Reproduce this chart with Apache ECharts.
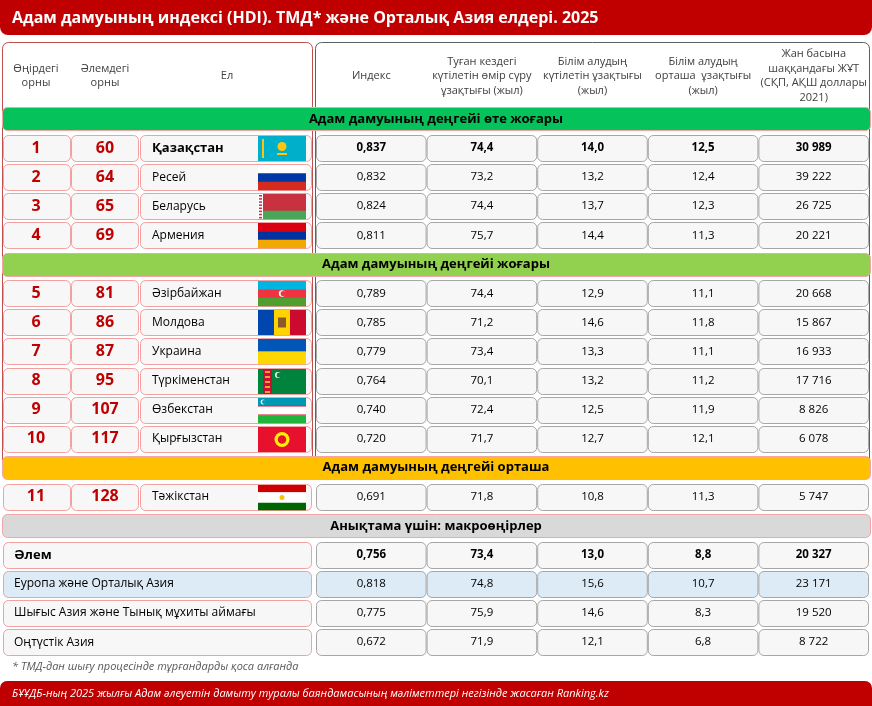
<!DOCTYPE html>
<html>
<head>
<meta charset="utf-8">
<script src="https://cdn.jsdelivr.net/npm/echarts@6/dist/echarts.min.js"></script>
<style>
  html, body { margin: 0; padding: 0; background: #fff; }
  #chart { width: 872px; height: 706px; }
</style>
</head>
<body>
<div id="chart"></div>
<script>
// --- data ---
const titleText = 'Адам дамуының индексі (HDI). ТМД* және Орталық Азия елдері. 2025';
const footnote = '* ТМД-дан шығу процесінде тұрғандарды қоса алғанда';
const sourceText = 'БҰҰДБ-ның 2025 жылғы Адам әлеуетін дамыту туралы баяндамасының мәліметтері негізінде жасаған Ranking.kz';

const leftHeaders = ['Өңірдегі\nорны', 'Әлемдегі\nорны', 'Ел'];
const valueHeaders = [
  'Индекс',
  'Туған кездегі\nкүтілетін өмір сүру\nұзақтығы (жыл)',
  'Білім алудың\nкүтілетін ұзақтығы\n(жыл)',
  'Білім алудың\nорташа  ұзақтығы\n(жыл)',
  'Жан басына\nшаққандағы ЖҰТ\n(СҚП, АҚШ доллары\n2021)'
];

const groupNames = ['Адам дамуының деңгейі өте жоғары', 'Адам дамуының деңгейі жоғары', 'Адам дамуының деңгейі орташа'];
const groupSizes = [4, 6, 1];

const regionRank = [1, 2, 3, 4, 5, 6, 7, 8, 9, 10, 11];
const worldRank = [60, 64, 65, 69, 81, 86, 87, 95, 107, 117, 128];
const countries = ['Қазақстан', 'Ресей', 'Беларусь', 'Армения', 'Әзірбайжан', 'Молдова', 'Украина', 'Түркіменстан', 'Өзбекстан', 'Қырғызстан', 'Тәжікстан'];
const hdi = [0.837, 0.832, 0.824, 0.811, 0.789, 0.785, 0.779, 0.764, 0.740, 0.720, 0.691];
const lifeExp = [74.4, 73.2, 74.4, 75.7, 74.4, 71.2, 73.4, 70.1, 72.4, 71.7, 71.8];
const expSchool = [14.0, 13.2, 13.7, 14.4, 12.9, 14.6, 13.3, 13.2, 12.5, 12.7, 10.8];
const meanSchool = [12.5, 12.4, 12.3, 11.3, 11.1, 11.8, 11.1, 11.2, 11.9, 12.1, 11.3];
const gni = [30989, 39222, 26725, 20221, 20668, 15867, 16933, 17716, 8826, 6078, 5747];

const refTitle = 'Анықтама үшін: макроөңірлер';
const regions = ['Әлем', 'Еуропа және Орталық Азия', 'Шығыс Азия және Тынық мұхиты аймағы', 'Оңтүстік Азия'];
const regionHdi = [0.756, 0.818, 0.775, 0.672];
const regionLife = [73.4, 74.8, 75.9, 71.9];
const regionExpSchool = [13.0, 15.6, 14.6, 12.1];
const regionMeanSchool = [8.8, 10.7, 8.3, 6.8];
const regionGni = [20327, 23171, 19520, 8722];

// --- styles ---
const RED = '#C00000';
const bandColors = ['#05C35A', '#92D050', '#FFC000', '#D9D9D9'];
const FONT = '"Open Sans", "Noto Sans", sans-serif';

// --- rows in drawing order ---
const rows = [];
let ci = 0;
groupNames.forEach((g, gi) => {
  rows.push({ kind: 'band', text: g, color: bandColors[gi] });
  for (let n = 0; n < groupSizes[gi]; n++) rows.push({ kind: 'country', i: ci++ });
});
rows.push({ kind: 'band', text: refTitle, color: bandColors[3] });
regions.forEach((r, j) => rows.push({ kind: 'region', j: j }));

const dec = (v, d) => v.toFixed(d).replace('.', ',');
const thousands = v => String(v).replace(/\B(?=(\d{3})+(?!\d))/g, ' ');

function rowValues(row) {
  if (row.kind === 'country') {
    const i = row.i;
    return [dec(hdi[i], 3), dec(lifeExp[i], 1), dec(expSchool[i], 1), dec(meanSchool[i], 1), thousands(gni[i])];
  }
  const j = row.j;
  return [dec(regionHdi[j], 3), dec(regionLife[j], 1), dec(regionExpSchool[j], 1), dec(regionMeanSchool[j], 1), thousands(regionGni[j])];
}

// simple flag drawings
function flag(name, x, y, w, h) {
  const out = [];
  const rect = (rx, ry, rw, rh, fill) => out.push({ type: 'rect', shape: { x: rx, y: ry, width: rw, height: rh }, style: { fill: fill } });
  const circ = (cx, cy, r, fill) => out.push({ type: 'circle', shape: { cx: cx, cy: cy, r: r }, style: { fill: fill } });
  const hStripes = (cols, weights) => {
    weights = weights || cols.map(() => 1);
    const tot = weights.reduce((a, b) => a + b, 0);
    let yy = y;
    cols.forEach((c, k) => { const hh = h * weights[k] / tot; rect(x, yy, w, hh + 0.3, c); yy += hh; });
  };
  switch (name) {
    case 'Қазақстан':
      rect(x, y, w, h, '#00AFCA');
      rect(x + 4, y + 3, 2, h - 6, '#FEC50C');
      circ(x + w / 2, y + h * 0.42, h * 0.18, '#FEC50C');
      rect(x + w / 2 - 5, y + h * 0.68, 10, 2, '#FEC50C');
      break;
    case 'Ресей': hStripes(['#FFFFFF', '#0039A6', '#D52B1E']); break;
    case 'Беларусь':
      hStripes(['#C8313E', '#4AA657'], [2, 1]);
      rect(x, y, 5, h, '#FFFFFF');
      for (let k = 0; k < 8; k++) rect(x + 1, y + 1 + k * h / 8, 3, h / 16, '#C8313E');
      break;
    case 'Армения': hStripes(['#D90012', '#0033A0', '#F2A800']); break;
    case 'Әзірбайжан':
      hStripes(['#00B5E2', '#EF3340', '#509E2F']);
      circ(x + w / 2, y + h / 2, 3.2, '#FFFFFF');
      circ(x + w / 2 + 1.2, y + h / 2, 2.6, '#EF3340');
      break;
    case 'Молдова':
      rect(x, y, w / 3, h, '#0046AE'); rect(x + w / 3, y, w / 3, h, '#FFD200'); rect(x + 2 * w / 3, y, w / 3, h, '#CC092F');
      rect(x + w / 2 - 4, y + h * 0.3, 8, h * 0.4, '#8B5A2B');
      break;
    case 'Украина': hStripes(['#0057B7', '#FFD700']); break;
    case 'Түркіменстан':
      rect(x, y, w, h, '#00843D');
      rect(x + 5, y, 9, h, '#C8102E');
      for (let k = 0; k < 5; k++) rect(x + 7, y + 2 + k * h / 5, 5, 2, '#E8A33C');
      circ(x + 20, y + 6, 3, '#FFFFFF'); circ(x + 21.2, y + 6, 2.6, '#00843D');
      break;
    case 'Өзбекстан':
      hStripes(['#0099B5', '#CE1126', '#FFFFFF', '#CE1126', '#1EB53A'], [10, 1, 10, 1, 10]);
      circ(x + 5, y + 4, 2.4, '#FFFFFF'); circ(x + 6, y + 4, 2, '#0099B5');
      break;
    case 'Қырғызстан':
      rect(x, y, w, h, '#E8112D');
      circ(x + w / 2, y + h / 2, h * 0.3, '#FFEF00');
      circ(x + w / 2, y + h / 2, h * 0.17, '#E8112D');
      break;
    case 'Тәжікстан':
      hStripes(['#CC0000', '#FFFFFF', '#006600'], [2, 3, 2]);
      circ(x + w / 2, y + h / 2, 2.5, '#F8C300');
      break;
  }
  return out;
}

function renderItem(params, api) {
  const row = rows[params.dataIndex];
  const yc = api.coord([0, api.value(1)])[1];
  const pitch = api.size([0, 1])[1];
  const X = v => api.coord([v, 0])[0];
  const kids = [];
  const cell = (x0, x1, h, fill, stroke) => kids.push({
    type: 'rect',
    shape: { x: X(x0) + 0.5, y: Math.round(yc - h / 2) + 0.5, width: X(x1) - X(x0), height: h, r: 5 },
    style: { fill: fill, stroke: stroke, lineWidth: 1 }
  });
  const txt = (s, x, font, fill, align) => kids.push({
    type: 'text',
    style: { text: s, x: X(x), y: yc, font: font, fill: fill, align: align, verticalAlign: 'middle', textAlign: align, textVerticalAlign: 'middle' }
  });

  if (row.kind === 'band') {
    cell(2, 870, pitch - 6, row.color, '#F2A5A5');
    txt(row.text, 436, 'bold 13px ' + FONT, '#000', 'center');
    return { type: 'group', children: kids };
  }

  const h = Math.round(pitch - 3.5);
  const strong = (row.kind === 'country' && row.i === 0) || (row.kind === 'region' && row.j === 0);
  const fill = (row.kind === 'region' && row.j === 1) ? '#DDEBF7' : '#F7F7F7';
  const pink = '#F2A0A0';

  if (row.kind === 'country') {
    const i = row.i;
    cell(3, 70, h, fill, pink);
    cell(71, 138, h, fill, pink);
    cell(140, 311, h, fill, pink);
    txt(String(regionRank[i]), 36, 'bold 16px ' + FONT, RED, 'center');
    txt(String(worldRank[i]), 105, 'bold 16px ' + FONT, RED, 'center');
    txt(countries[i], 152, (strong ? 'bold 13px ' : '12px ') + FONT, '#000', 'left');
    const fy = Math.round(yc - h / 2) + 1;
    flag(countries[i], X(258), fy, X(306) - X(258), h - 1).forEach(e => kids.push(e));
  } else {
    cell(3, 311, h, fill, pink);
    txt(regions[row.j], 14, (strong ? 'bold 13px ' : '12px ') + FONT, '#000', 'left');
  }

  const cw = (869 - 316) / 5;
  rowValues(row).forEach((v, k) => {
    const x0 = 316 + k * cw;
    cell(x0, x0 + cw - 1, h, fill, '#A6A6A6');
    txt(v, x0 + cw / 2, (strong ? 'bold 11.5px ' : '11.5px ') + FONT, '#000', 'center');
  });
  return { type: 'group', children: kids };
}

// --- static frame: title, panels, headers, footer ---
const headerText = (s, x) => ({
  type: 'text', z: 1,
  style: { text: s, x: x, y: 76, font: '11px ' + FONT, fill: '#404040', lineHeight: 14.5, align: 'center', verticalAlign: 'middle', textAlign: 'center', textVerticalAlign: 'middle' }
});
const cw = (869 - 316) / 5;
const graphics = [
  { type: 'rect', z: 0, shape: { x: 0, y: 0, width: 872, height: 35, r: [0, 0, 8, 8] }, style: { fill: RED } },
  { type: 'text', z: 1, style: { text: titleText, x: 12, y: 18, font: 'bold 16px ' + FONT, fill: '#fff', align: 'left', verticalAlign: 'middle', textAlign: 'left', textVerticalAlign: 'middle' } },
  { type: 'rect', z: 0, shape: { x: 2.5, y: 42.5, width: 310, height: 424, r: 6 }, style: { fill: '#fff', stroke: '#C0504D', lineWidth: 1 } },
  { type: 'rect', z: 0, shape: { x: 315.5, y: 42.5, width: 554, height: 424, r: 6 }, style: { fill: '#fff', stroke: '#606060', lineWidth: 1 } },
  headerText(leftHeaders[0], 36),
  headerText(leftHeaders[1], 105),
  headerText(leftHeaders[2], 227)
].concat(valueHeaders.map((s, k) => headerText(s, 316 + k * cw + cw / 2))).concat([
  { type: 'text', z: 1, style: { text: footnote, x: 12, y: 667, font: 'italic 11px ' + FONT, fill: '#595959', align: 'left', verticalAlign: 'middle', textAlign: 'left', textVerticalAlign: 'middle' } },
  { type: 'rect', z: 0, shape: { x: 0, y: 681, width: 872, height: 25, r: [7, 7, 0, 0] }, style: { fill: RED } },
  { type: 'text', z: 1, style: { text: sourceText, x: 12, y: 694, font: 'italic 11px ' + FONT, fill: '#fff', align: 'left', verticalAlign: 'middle', textAlign: 'left', textVerticalAlign: 'middle' } }
]);

const chart = echarts.init(document.getElementById('chart'));
chart.setOption({
  animation: false,
  backgroundColor: '#fff',
  grid: { left: 0, right: 0, top: 104.47, bottom: 49.39 },
  xAxis: { type: 'value', min: 0, max: 872, show: false },
  yAxis: { type: 'value', min: 0, max: 19, inverse: true, show: false },
  graphic: graphics,
  series: [{
    type: 'custom',
    renderItem: renderItem,
    clip: false,
    z: 3,
    data: rows.map((r, k) => [0, k + 0.5])
  }]
});
</script>
</body>
</html>
